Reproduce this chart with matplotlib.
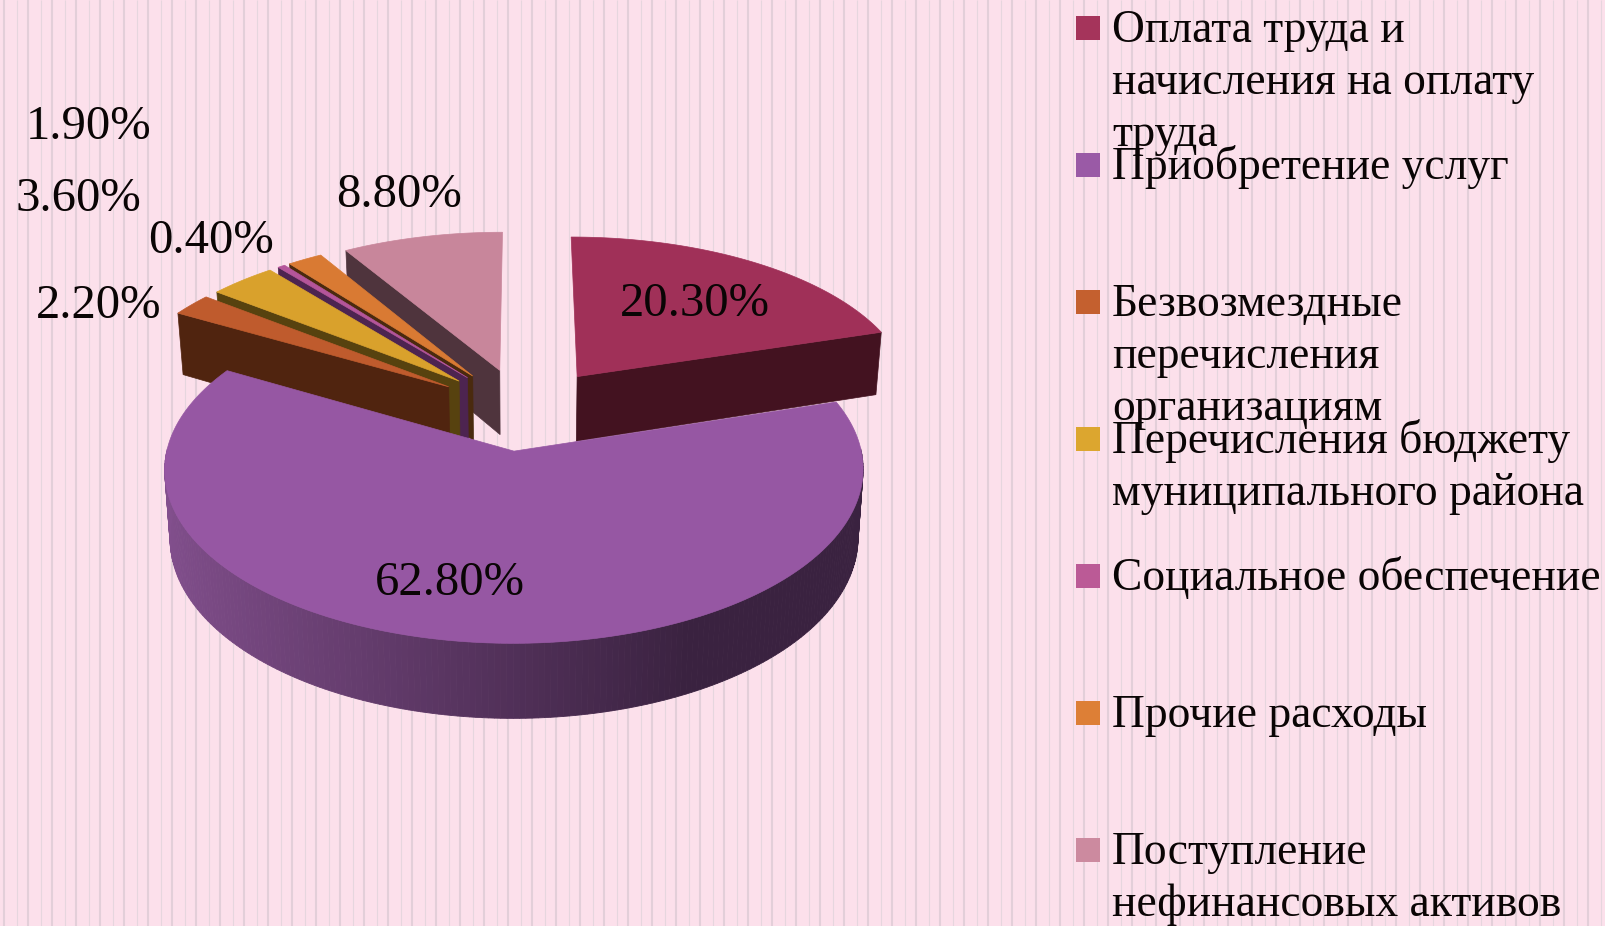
import numpy as np
import matplotlib
matplotlib.use("Agg")
import matplotlib.pyplot as plt
from matplotlib.patches import Polygon, Rectangle
from matplotlib.colors import to_rgb

# -------------------------------
# Data
# -------------------------------
categories = [
    ["Оплата труда и", "начисления на оплату", "труда"],
    ["Приобретение услуг"],
    ["Безвозмездные", "перечисления", "организациям"],
    ["Перечисления бюджету", "муниципального района"],
    ["Социальное обеспечение"],
    ["Прочие расходы"],
    ["Поступление", "нефинансовых активов"],
]
values = [20.3, 62.8, 2.2, 3.6, 0.4, 1.9, 8.8]
value_labels = ["20.30%", "62.80%", "2.20%", "3.60%", "0.40%", "1.90%", "8.80%"]

top_colors = ["#a03058", "#9657a3", "#bf5b2d", "#d9a12c", "#b4559a", "#d97a33", "#c8869b"]
legend_colors = ["#a5345b", "#9a5aa6", "#c4602f", "#dca62f", "#bb5a96", "#dd7f36", "#cc8a9f"]
wall_colors = ["#431220", "#5a3366", "#50240f", "#57420f", "#4d2450", "#4a2a0e", "#4f343d"]

# label centres in pixels
label_pos = [(695, 304), (450, 583), (99, 306), (78, 199), (211, 241), (89, 127), (399, 195)]

# -------------------------------
# Pie geometry
# -------------------------------
W, H = 1605, 926
cx, cy = 524, 409
rx, ry = 338, 165
explode_x, explode_y = 0.27, 0.25
persp = 0.11
depth = 66
wall_shrink = 0.015


def project(u, v, down=0.0):
    s = 1 + persp * v
    # the underside of the pie is a bit narrower than the top
    narrow = 1 - wall_shrink * down / depth
    return cx + rx * u * s * narrow, cy + ry * v * s + down * s


def top_and_bottom(u, v):
    return project(u, v), project(u, v, depth)


fig = plt.figure(figsize=(W / 100, H / 100), dpi=100, facecolor="#fce0eb")
ax = fig.add_axes([0, 0, 1, 1])
ax.set_xlim(0, W)
ax.set_ylim(H, 0)
ax.axis("off")

# background stripes, thick and thin in turn
ax.vlines(np.arange(4, W, 24), 0, H, color="#e3cfd9", lw=1.5, zorder=0)
ax.vlines(np.arange(16.5, W, 24), 0, H, color="#e6d6de", lw=0.8, zorder=0)

ends = np.cumsum(values) / 100 * 2 * np.pi
starts = ends - np.array(values) / 100 * 2 * np.pi

rim_left = np.array(to_rgb("#824f8d"))
rim_right = np.array(to_rgb("#3a2240"))

# back to front: the purple slice goes on top of everything
draw_order = [6, 5, 4, 3, 2, 0, 1]
z = 1
for i in draw_order:
    a0, a1 = starts[i], ends[i]
    mid = (a0 + a1) / 2
    ou = explode_x * np.sin(mid)
    ov = -explode_y * np.cos(mid)

    angles = np.linspace(a0, a1, 240)
    us = ou + np.sin(angles)
    vs = ov - np.cos(angles)

    # radial faces that look at the viewer
    for a, facing in ((a0, -np.sin(a0)), (a1, np.sin(a1))):
        if facing > 0:
            p0, p0b = top_and_bottom(ou, ov)
            p1, p1b = top_and_bottom(ou + np.sin(a), ov - np.cos(a))
            ax.add_patch(Polygon([p0, p1, p1b, p0b], fc=wall_colors[i], ec=wall_colors[i], lw=0.5, zorder=z))

    # outer rim, shaded from left to right, flat dark after about 3/4
    for k in range(len(angles) - 1):
        if vs[k] - ov <= 0 and vs[k + 1] - ov <= 0:
            continue
        p0, p0b = top_and_bottom(us[k], vs[k])
        p1, p1b = top_and_bottom(us[k + 1], vs[k + 1])
        if i == 1:
            t = np.clip((us[k] - ou + 1) / 2 / 0.735, 0, 1)
            c = rim_left * (1 - t) + rim_right * t
        else:
            c = to_rgb(wall_colors[i])
        ax.add_patch(Polygon([p0, p1, p1b, p0b], fc=c, ec=c, lw=0.6, zorder=z))

    # top surface
    pts = [project(ou, ov)] + [project(u, v) for u, v in zip(us, vs)]
    ax.add_patch(Polygon(pts, fc=top_colors[i], ec=top_colors[i], lw=0.5, zorder=z + 1))
    z += 2

# data labels
for text, (x, y) in zip(value_labels, label_pos):
    ax.text(x, y, text, fontsize=35, family="Liberation Serif", color="#0a0505",
            ha="center", va="center", zorder=50)

# -------------------------------
# Legend
# -------------------------------
row_y = 28
for lines, color in zip(categories, legend_colors):
    ax.add_patch(Rectangle((1076, row_y - 12), 24, 24, fc=color, ec="none", zorder=50))
    for n, line in enumerate(lines):
        ax.text(1112, row_y + 14 + n * 52, line, fontsize=32.8, family="Liberation Serif",
                color="#0a0505", ha="left", va="baseline", zorder=51)
    row_y += 137

fig.savefig("out.png", dpi=100, facecolor=fig.get_facecolor())
